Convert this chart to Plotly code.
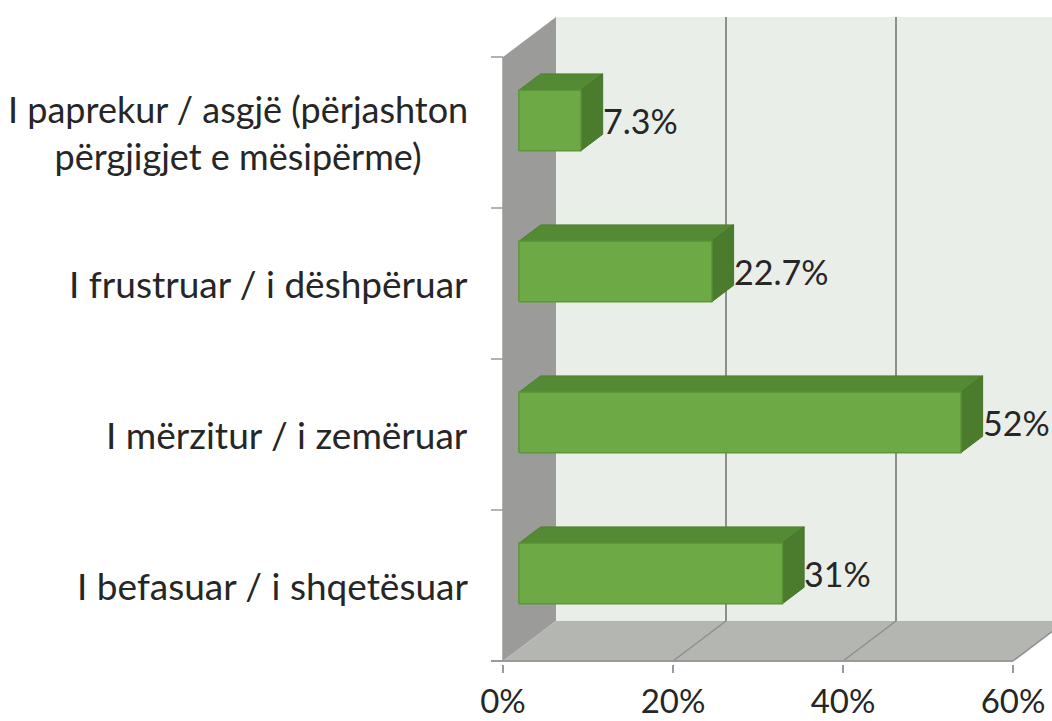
import plotly.graph_objects as go

# ---------------- data ----------------
categories = [
    "I befasuar / i shqetësuar",
    "I mërzitur / i zemëruar",
    "I frustruar / i dëshpëruar",
    "I paprekur / asgjë (përjashton<br>përgjigjet e mësipërme)",
]
values = [31, 52, 22.7, 7.3]
value_labels = ["31%", "52%", "22.7%", "7.3%"]
x_ticks = [0, 20, 40, 60]
x_tick_text = ["0%", "20%", "40%", "60%"]

# ---------------- styling / geometry ----------------
W, H = 1052, 721
PX_X = 8.5      # px per percent
PX_Y = 151.0    # px per category
LEFT_PX = 486
ORIGIN_PX = 503
BOTTOM_PX = 664
FLOOR_PX = 661
XMIN = -(ORIGIN_PX - LEFT_PX) / PX_X
XMAX = (W - ORIGIN_PX) / PX_X
YMIN = -(BOTTOM_PX - FLOOR_PX) / PX_Y
YMAX = FLOOR_PX / PX_Y

DX = 53 / PX_X        # depth offset in x units
DY = 40 / PX_Y        # depth offset in y units
F0, F1 = 0.30, 0.71   # bar depth extent (fraction of depth)
HALF = 0.20           # half bar thickness (category units)
NCAT = len(categories)
XEND = x_ticks[-1]

FONT = "Lato"
FS_CAT = 37
FS_CAT_LONG = 36
FS_VAL = 34
FS_TICK = 33
TXT = "#262626"
GRID = "#8E8E8E"
AXIS = "#9A9A9A"
FRONT = "#6DA945"
FRONT_EDGE = "#5C963A"
TOP = "#548A34"
SIDE = "#4B7B2D"

fig = go.Figure()


def poly(xs, ys, fill, line_color=None, lw=0):
    fig.add_trace(go.Scatter(
        x=list(xs) + [xs[0]], y=list(ys) + [ys[0]],
        mode="lines", fill="toself", fillcolor=fill,
        line=dict(color=line_color or fill, width=lw),
        hoverinfo="skip", showlegend=False,
    ))


def seg(xs, ys, color, width):
    fig.add_trace(go.Scatter(
        x=xs, y=ys, mode="lines", line=dict(color=color, width=width),
        hoverinfo="skip", showlegend=False,
    ))


# back wall
poly([DX, XEND + DX, XEND + DX, DX], [DY, DY, NCAT + DY, NCAT + DY], "#E9EEE8")
# left wall
poly([0, 0, DX, DX], [0, NCAT, NCAT + DY, DY], "#9B9C9A")
# floor
poly([0, XEND, XEND + DX, DX], [0, 0, DY, DY], "#B3B6B1")

# gridlines on back wall and floor
for t in x_ticks[1:]:
    seg([t + DX, t + DX], [DY, NCAT + DY], GRID, 2)
    seg([t, t + DX], [0, DY], GRID, 1.5)

# bars
for i, v in enumerate(values):
    c = i + 0.5
    yb, yt = c - HALF, c + HALF
    x0f, x1f = F0 * DX, v + F0 * DX
    x0b, x1b = F1 * DX, v + F1 * DX
    # top face
    poly([x0f, x1f, x1b, x0b],
         [yt + F0 * DY, yt + F0 * DY, yt + F1 * DY, yt + F1 * DY], TOP, "#4E8030", 1)
    # side face
    poly([x1f, x1b, x1b, x1f],
         [yb + F0 * DY, yb + F1 * DY, yt + F1 * DY, yt + F0 * DY], SIDE, "#46742A", 1)
    # front face
    poly([x0f, x1f, x1f, x0f],
         [yb + F0 * DY, yb + F0 * DY, yt + F0 * DY, yt + F0 * DY], FRONT, FRONT_EDGE, 1.5)
    # value label
    fig.add_annotation(
        x=x1b, y=c + F0 * DY, xref="x", yref="y", text=value_labels[i],
        showarrow=False, xanchor="left", yanchor="middle",
        borderwidth=0, borderpad=0,
        font=dict(family=FONT, size=FS_VAL, color=TXT),
    )

# axes lines and category ticks
seg([0, 0], [0, NCAT], AXIS, 1.5)
seg([-12 / PX_X, XEND], [0, 0], AXIS, 2)
for k in range(1, NCAT + 1):
    seg([-12 / PX_X, 0], [k, k], AXIS, 1.5)

# category labels
label_right_px = 470
plot_w = W - LEFT_PX
for i, name in enumerate(categories):
    fs = FS_CAT_LONG if "<br>" in name else FS_CAT
    fig.add_annotation(
        x=(label_right_px - LEFT_PX) / plot_w, xref="paper", y=i + 0.5, yref="y",
        text=name, showarrow=False, xanchor="right", yanchor="middle", align="center",
        font=dict(family=FONT, size=fs, color=TXT),
    )

fig.update_layout(
    width=W, height=H,
    margin=dict(l=LEFT_PX, r=0, t=0, b=H - BOTTOM_PX, pad=0),
    paper_bgcolor="white", plot_bgcolor="white",
    showlegend=False,
    xaxis=dict(
        range=[XMIN, XMAX], tickvals=x_ticks, ticktext=x_tick_text,
        showgrid=False, zeroline=False, showline=False,
        ticks="outside", ticklen=8, tickwidth=1.5, tickcolor=AXIS,
        ticklabelstandoff=0,
        tickfont=dict(family=FONT, size=FS_TICK, color=TXT),
        automargin=False, fixedrange=True,
    ),
    yaxis=dict(
        range=[YMIN, YMAX], showgrid=False, zeroline=False, showline=False,
        showticklabels=False, ticks="", automargin=False, fixedrange=True,
    ),
)

fig.write_html(
    "out.html",
    config={"displayModeBar": False},
    post_script="document.body.style.margin='0px';document.body.style.overflow='hidden';",
)
